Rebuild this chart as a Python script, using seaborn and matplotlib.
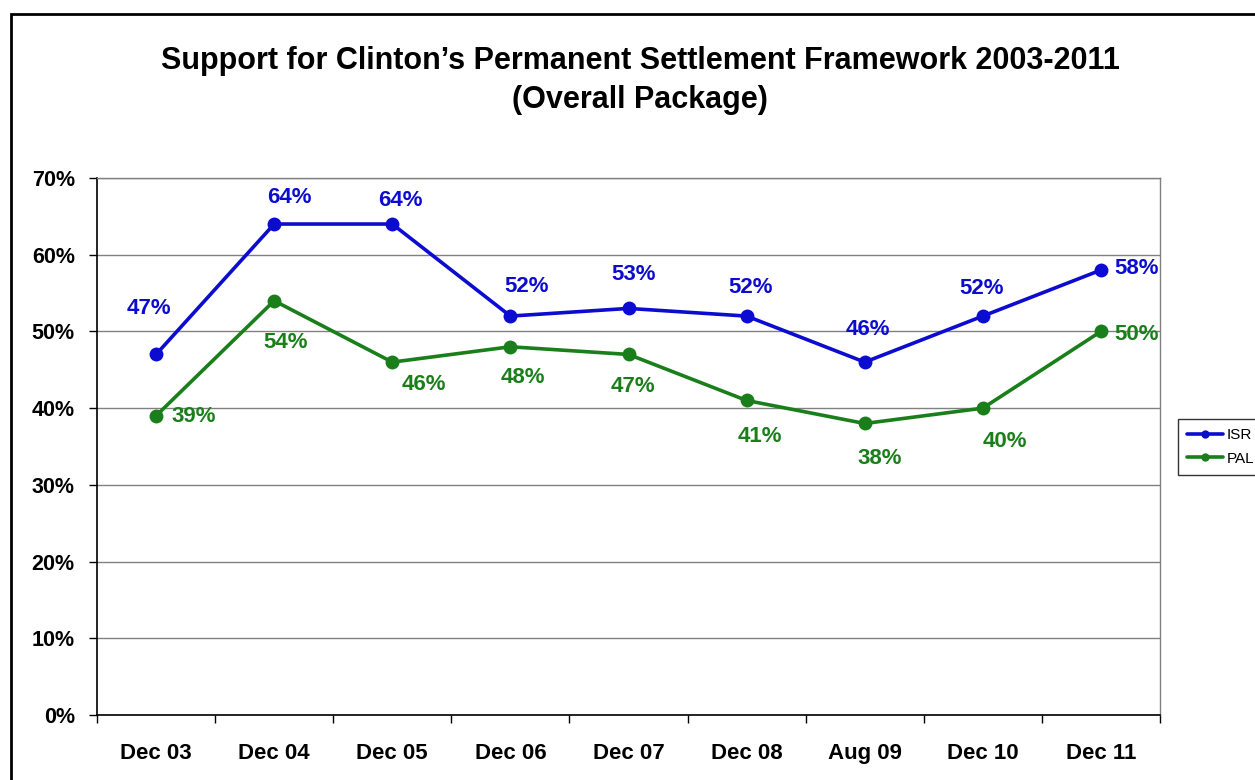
import matplotlib
matplotlib.use("Agg")
import matplotlib.pyplot as plt
import seaborn as sns
import pandas as pd
from matplotlib.patches import Rectangle
from matplotlib.ticker import FixedLocator, FuncFormatter

categories = ["Dec 03", "Dec 04", "Dec 05", "Dec 06", "Dec 07", "Dec 08", "Aug 09", "Dec 10", "Dec 11"]
isr_values = [47, 64, 64, 52, 53, 52, 46, 52, 58]
pal_values = [39, 54, 46, 48, 47, 41, 38, 40, 50]
series_names = ["ISR", "PAL"]
y_ticks = [0, 10, 20, 30, 40, 50, 60, 70]
title_text = "Support for Clinton\u2019s Permanent Settlement Framework 2003-2011\n(Overall Package)"

colors = {"ISR": "#0C0CD0", "PAL": "#1A7F1A"}

sns.set_theme(style="white")
plt.rcParams["font.family"] = ["Liberation Sans", "DejaVu Sans"]
plt.rcParams["text.color"] = "black"
plt.rcParams["xtick.color"] = "black"
plt.rcParams["ytick.color"] = "black"
plt.rcParams["axes.labelcolor"] = "black"

rows = []
for i, c in enumerate(categories):
    rows.append({"pos": i, "cat": c, "series": "ISR", "value": isr_values[i]})
    rows.append({"pos": i, "cat": c, "series": "PAL", "value": pal_values[i]})
df = pd.DataFrame(rows)

fig = plt.figure(figsize=(12.55, 7.8), dpi=100)
ax = fig.add_axes([97/1255, 1-715/780, (1160-97)/1255, (715-178)/780])

sns.lineplot(data=df, x="pos", y="value", hue="series", hue_order=series_names,
             palette=colors, marker="o", markersize=10, linewidth=2.6,
             markeredgewidth=0, sort=False, ax=ax)

ax.set_xlim(-0.5, len(categories) - 0.5)
ax.set_ylim(0, 70)
ax.set_xlabel("")
ax.set_ylabel("")

ax.yaxis.set_major_locator(FixedLocator(y_ticks))
ax.yaxis.set_major_formatter(FuncFormatter(lambda v, p: f"{int(v)}%"))
ax.grid(axis="y", color="#808080", linewidth=1.0)
ax.set_axisbelow(True)

ax.set_xticks(range(len(categories)))
ax.set_xticklabels(categories, fontsize=16, fontweight="bold", color="black")
ax.xaxis.set_minor_locator(FixedLocator([i - 0.5 for i in range(len(categories) + 1)]))
ax.tick_params(axis="x", which="major", length=0, pad=20)
ax.tick_params(axis="x", which="minor", length=6, width=1, color="black", direction="out", bottom=True)
ax.tick_params(axis="y", which="major", length=6, width=1, color="black", direction="out",
               left=True, pad=10, labelsize=15.5, labelcolor="black")
for lab in ax.get_yticklabels():
    lab.set_fontweight("bold")

for side in ["top", "right"]:
    ax.spines[side].set_color("#808080")
    ax.spines[side].set_linewidth(1.0)
for side in ["left", "bottom"]:
    ax.spines[side].set_color("black")
    ax.spines[side].set_linewidth(1.2)

isr_offsets = [(-7, 46), (15, 27), (8, 24), (16, 30), (5, 34), (4, 29), (3, 33), (-1, 28), (36, 2)]
pal_offsets = [(38, -1), (11, -42), (32, -22), (12, -31), (4, -32), (13, -36), (15, -35), (22, -33), (36, -3)]
for i in range(len(categories)):
    ax.annotate(f"{isr_values[i]}%", (i, isr_values[i]), xytext=isr_offsets[i],
                textcoords="offset pixels", ha="center", va="center",
                color=colors["ISR"], fontsize=16, fontweight="bold")
    ax.annotate(f"{pal_values[i]}%", (i, pal_values[i]), xytext=pal_offsets[i],
                textcoords="offset pixels", ha="center", va="center",
                color=colors["PAL"], fontsize=16, fontweight="bold")

leg = ax.legend(loc="center left", bbox_to_anchor=(1170/1255, 1-447/780),
                bbox_transform=fig.transFigure, frameon=True, fontsize=11,
                handlelength=2.4, handletextpad=0.2, borderpad=0.6,
                labelspacing=0.6, fancybox=False, edgecolor="black")
leg.get_frame().set_linewidth(1.0)
for t in leg.get_texts():
    t.set_color("black")
for h in leg.get_lines():
    h.set_markersize(6)
    h.set_linewidth(2.6)

fig.suptitle(title_text, x=640/1255, y=1-46/780, va="top", fontsize=22,
             fontweight="bold", linespacing=1.38, color="black")

fig.patches.append(Rectangle((11/1255, -0.2), 1.2, 1.2 - 14/780,
                             transform=fig.transFigure, fill=False,
                             edgecolor="black", linewidth=2.0))

fig.savefig("out.png", dpi=100)
